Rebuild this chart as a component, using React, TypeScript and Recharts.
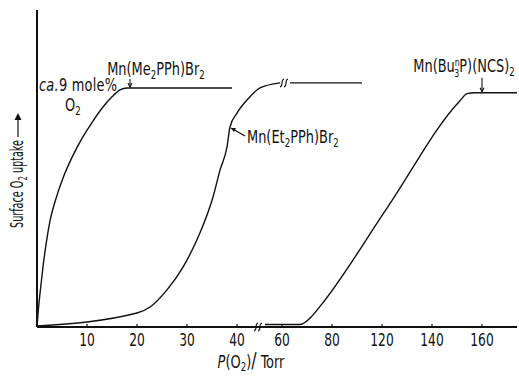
import { LineChart, Line, XAxis, YAxis, ReferenceDot, Label } from "recharts";

// x is the position on the broken axis (0-45 = Torr, right segment compressed)
const meCurve = [
    { x: 0, y: 0 }, { x: 0.3, y: 6 }, { x: 0.7, y: 12 }, { x: 1.2, y: 19 }, { x: 1.9, y: 27 },
    { x: 2.6, y: 33.5 }, { x: 3.6, y: 39.5 }, { x: 5.2, y: 47 }, { x: 7, y: 53.5 }, { x: 9, y: 59.5 },
    { x: 11, y: 64.5 }, { x: 13, y: 69 }, { x: 15, y: 72.6 }, { x: 16.6, y: 74.8 }, { x: 18, y: 75.4 },
    { x: 39, y: 75.4 },
];
const etCurve = [
    { x: 0, y: 0.3 }, { x: 20, y: 4.4 }, { x: 22.6, y: 6.3 }, { x: 26, y: 11.7 }, { x: 29.2, y: 18.9 },
    { x: 32.6, y: 29.7 }, { x: 35.2, y: 41 }, { x: 36.6, y: 49.5 }, { x: 38, y: 56.8 }, { x: 38.6, y: 63.1 },
    { x: 40, y: 67.5 }, { x: 42, y: 71.6 }, { x: 44.6, y: 75.4 }, { x: 48.6, y: 77 },
];
const etPlateau = [{ x: 50.6, y: 77 }, { x: 65, y: 77 }];
const buCurve = [
    { x: 45.6, y: 0.8 }, { x: 52.6, y: 0.8 }, { x: 54.6, y: 2.8 }, { x: 56.6, y: 6.5 }, { x: 70, y: 37.5 },
    { x: 84.6, y: 71.4 }, { x: 86, y: 73.6 }, { x: 87.5, y: 73.9 }, { x: 96, y: 73.9 },
];
const tickPositions = [10, 20, 30, 40, 49, 59, 69, 79, 89];
const tickLabels = ["10", "20", "30", "40", "60", "80", "120", "140", "160"];

const FONT = '"DejaVu Sans Condensed", "DejaVu Sans", sans-serif';
const INK = "#111";
const SUB = 12;

function Txt({ x, y, anchor = "start", size = 18, spacing = 0, children }: any) {
    return (
        <text transform={`translate(${x},${y}) scale(0.8,1)`} textAnchor={anchor}
            fontFamily={FONT} fontSize={size} fill={INK} letterSpacing={spacing}>
            {children}
        </text>
    );
}

function Tick({ x, y, payload }: any) {
    const label = tickLabels[tickPositions.indexOf(payload.value)];
    return (
        <g>
            <line x1={x} x2={x} y1={y} y2={y - 3} stroke={INK} strokeWidth={1.2} />
            <Txt x={x} y={y + 19} anchor="middle" size={17}>{label}</Txt>
        </g>
    );
}

function BreakMark({ cx, cy }: any) {
    const s = (dx: number) =>
        `M${cx + dx - 3},${cy + 4} C${cx + dx + 1},${cy + 3} ${cx + dx - 3},${cy - 3} ${cx + dx + 1},${cy - 4}`;
    return <path d={`${s(-2)} ${s(2)}`} stroke={INK} strokeWidth={1.1} fill="none" />;
}

function ArrowDown({ x, y0, y1 }: any) {
    return (
        <g stroke={INK} strokeWidth={1.1} fill="none">
            <line x1={x} x2={x} y1={y0} y2={y1} />
            <path d={`M${x - 2},${y1 - 4} L${x},${y1} L${x + 2},${y1 - 4}`} />
        </g>
    );
}

function MeNote({ cx, cy }: any) {
    return (
        <g>
            <Txt x={cx + 26} y={cy - 13} anchor="middle">
                Mn(Me<tspan fontSize={SUB} dy={4}>2</tspan><tspan dy={-4}>PPh)Br</tspan><tspan fontSize={SUB} dy={4}>2</tspan>
            </Txt>
            <ArrowDown x={cx} y0={cy - 9} y1={cy - 1} />
            <Txt x={cx - 91} y={cy + 3} spacing={0.3}><tspan fontStyle="italic">ca.</tspan>9 mole%</Txt>
            <Txt x={cx - 65} y={cy + 23}>O<tspan fontSize={SUB} dy={4}>2</tspan></Txt>
        </g>
    );
}

function EtNote({ cx, cy }: any) {
    return (
        <g>
            <line x1={cx + 1} y1={cy + 1} x2={cx + 15} y2={cy + 9} stroke={INK} strokeWidth={1.2} />
            <path d={`M${cx + 1},${cy + 1} L${cx + 6},${cy + 1} L${cx + 4},${cy + 5} Z`} fill={INK} />
            <Txt x={cx + 17} y={cy + 16}>
                Mn(Et<tspan fontSize={SUB} dy={4}>2</tspan><tspan dy={-4}>PPh)Br</tspan><tspan fontSize={SUB} dy={4}>2</tspan>
            </Txt>
        </g>
    );
}

function BuNote({ cx, cy }: any) {
    return (
        <g>
            <Txt x={cx - 18} y={cy - 21} anchor="middle">
                Mn(Bu<tspan fontSize={11} dy={-6}>n</tspan><tspan fontSize={11} dx={-7} dy={11}>3</tspan>
                <tspan dy={-5}>P)(NCS)</tspan><tspan fontSize={SUB} dy={4}>2</tspan>
            </Txt>
            <ArrowDown x={cx} y0={cy - 15} y1={cy - 1} />
        </g>
    );
}

function YTitle({ viewBox }: any) {
    const { x, y } = viewBox;
    return (
        <g transform={`translate(${x + 17},${y + 160}) rotate(-90)`}>
            <text x={-58} y={6} fontFamily={FONT} fontSize={17} fill={INK}
                textLength={88} lengthAdjust="spacingAndGlyphs">
                Surface  O<tspan fontSize={SUB} dy={4}>2</tspan><tspan dy={-4}>  uptake</tspan>
            </text>
            <line x1={33} x2={55} y1={1} y2={1} stroke={INK} strokeWidth={1.2} />
            <path d={`M50,-2.5 L57,1 L50,4.5 Z`} fill={INK} />
        </g>
    );
}

function XTitle({ viewBox }: any) {
    const { x, y } = viewBox;
    return (
        <Txt x={x + 214} y={y + 41} anchor="middle">
            <tspan fontStyle="italic">P</tspan>(O<tspan fontSize={SUB} dy={3}>2</tspan><tspan dy={-3}>)</tspan>
            <tspan fontSize={22}>/</tspan> Torr
        </Txt>
    );
}

export default function App() {
    return (
        <div style={{ position: "absolute", left: 0, top: 0, background: "#fff" }}>
            <LineChart width={519} height={377} margin={{ top: 10, right: 2, left: 0, bottom: 0 }}>
                <XAxis type="number" dataKey="x" domain={[0, 96]} ticks={tickPositions} interval={0}
                    axisLine={{ stroke: INK, strokeWidth: 1.8 }} tickLine={false} tickSize={0} tickMargin={0}
                    tick={<Tick />} height={50}>
                    <Label content={<XTitle />} />
                </XAxis>
                <YAxis type="number" domain={[0, 100]} width={37} tick={false} tickLine={false}
                    axisLine={{ stroke: INK, strokeWidth: 2 }}>
                    <Label content={<YTitle />} />
                </YAxis>
                <Line data={meCurve} dataKey="y" type="monotone" stroke={INK} strokeWidth={1.4} dot={false} isAnimationActive={false} />
                <Line data={etCurve} dataKey="y" type="monotone" stroke={INK} strokeWidth={1.4} dot={false} isAnimationActive={false} />
                <Line data={etPlateau} dataKey="y" type="linear" stroke={INK} strokeWidth={1.4} dot={false} isAnimationActive={false} />
                <Line data={buCurve} dataKey="y" type="monotone" stroke={INK} strokeWidth={1.4} dot={false} isAnimationActive={false} />
                <ReferenceDot x={44.4} y={0} r={0} shape={<BreakMark />} />
                <ReferenceDot x={49.6} y={77} r={0} shape={<BreakMark />} />
                <ReferenceDot x={18.6} y={75.4} r={0} shape={<MeNote />} />
                <ReferenceDot x={38.6} y={63.1} r={0} shape={<EtNote />} />
                <ReferenceDot x={89} y={73.9} r={0} shape={<BuNote />} />
            </LineChart>
        </div>
    );
}
